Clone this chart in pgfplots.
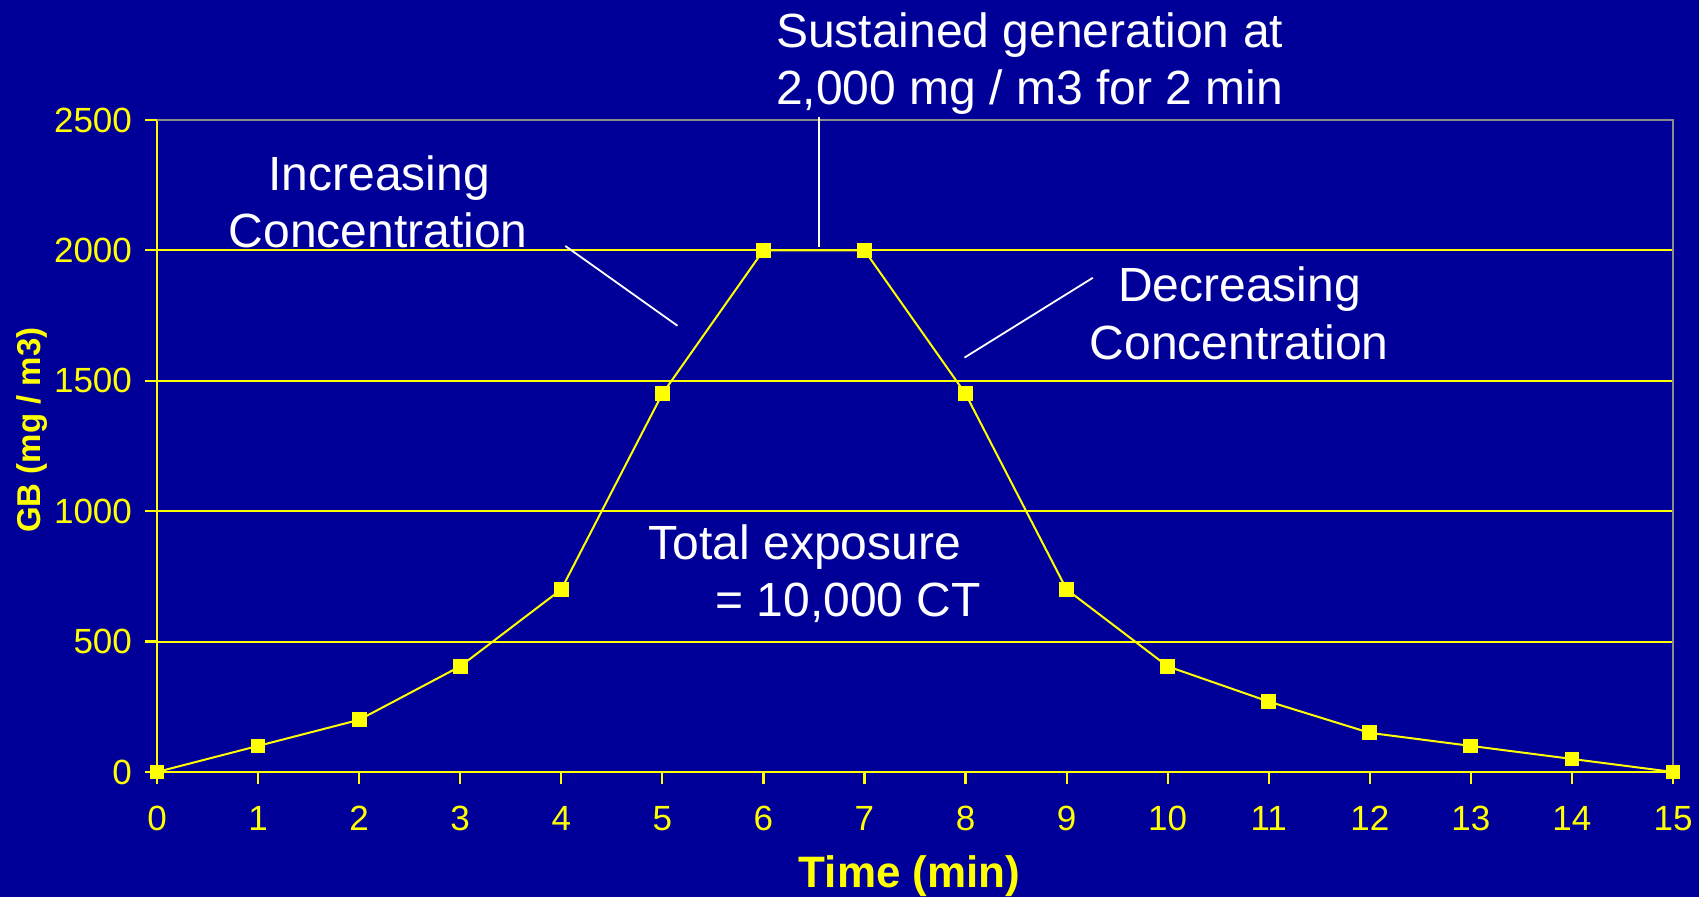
\documentclass[border=0pt]{standalone}
\usepackage{fontspec}
\setmainfont{Liberation Sans}
\usepackage{pgfplots}
\pgfplotsset{compat=1.18}
\definecolor{slidebg}{RGB}{0,0,153}
\definecolor{ylw}{RGB}{255,255,0}
\definecolor{bordergray}{RGB}{140,140,140}

\begin{document}
\begin{tikzpicture}
\path[fill=slidebg, use as bounding box] (-78.5pt,-62.5pt) rectangle (771pt,386pt);
\begin{axis}[
  at={(0,0)}, anchor=south west,
  scale only axis,
  width=758pt, height=326pt,
  xmin=0, xmax=15, ymin=0, ymax=2500,
  xtick={0,1,...,15},
  ytick={0,500,...,2500},
  axis lines=left,
  axis line style={-, ylw, line width=1.1pt},
  ymajorgrids,
  grid style={ylw, line width=1pt},
  tick align=outside,
  major tick length=6pt,
  tick style={ylw, line width=1.1pt},
  /pgf/number format/assume math mode=true,
  /pgf/number format/1000 sep={},
  ticklabel style={font=\fontsize{17.5}{20}\selectfont, text=ylw},
  xticklabel style={yshift=-7.5pt},
  yticklabel style={xshift=-3pt},
  every axis x label/.style={at={(axis description cs:0.4965,-0.1768)}, anchor=base,
    font=\bfseries\fontsize{22}{26}\selectfont, text=ylw},
  every axis y label/.style={at={(axis description cs:-0.0827,0.5245)}, rotate=90, anchor=center,
    font=\bfseries\fontsize{16.5}{20}\selectfont, text=ylw},
  xlabel={Time (min)},
  ylabel={GB (mg / m3)},
  clip=false,
]
% plot frame on top and right
\draw[bordergray, line width=1pt] (axis cs:0,2500) -- (axis cs:15,2500) -- (axis cs:15,0);

\addplot[ylw, line width=1pt, mark=square*, mark size=3.2pt, mark options={fill=ylw, draw=ylw}]
  coordinates {(0,0) (1,100) (2,200) (3,405) (4,700) (5,1450) (6,2000) (7,2000)
    (8,1450) (9,700) (10,405) (11,270) (12,150) (13,100) (14,50) (15,0)};

% pointer lines
\draw[white, line width=0.9pt] (axis cs:4.04,2017) -- (axis cs:5.15,1711);
\draw[white, line width=0.9pt] (axis cs:9.26,1895) -- (axis cs:7.99,1589);
\draw[white, line width=0.9pt] (axis cs:6.55,2511) -- (axis cs:6.55,2013);

% annotations
\tikzset{ann/.style={text=white, inner sep=0pt, anchor=base west, font=\fontsize{24}{28}\selectfont}}
\node[ann] at (axis cs:6.122,2777) {Sustained generation at};
\node[ann] at (axis cs:6.122,2561) {2,000 mg / m3 for 2 min};
\node[ann] at (axis cs:1.10,2229) {Increasing};
\node[ann] at (axis cs:0.706,2012) {Concentration};
\node[ann] at (axis cs:9.505,1803) {Decreasing};
\node[ann] at (axis cs:9.225,1582) {Concentration};
\node[ann] at (axis cs:4.861,813) {Total exposure};
\node[ann] at (axis cs:5.521,595) {= 10,000 CT};
\end{axis}
\end{tikzpicture}
\end{document}
